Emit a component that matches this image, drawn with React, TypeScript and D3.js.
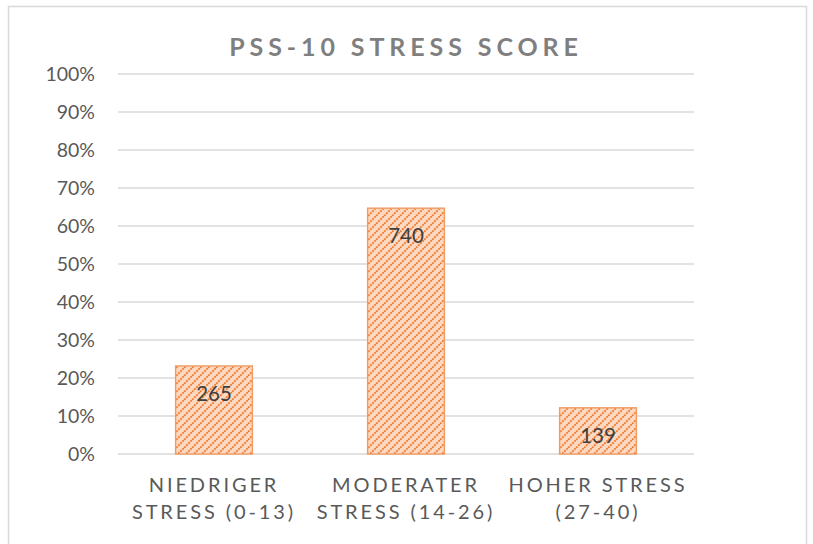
import React from "react";
import * as d3 from "d3";

// PSS-10 Verteilung (Anzahl Teilnehmer je Kategorie)
const categories = ["niedrig", "moderat", "hoch"];
const labelLines = [
  ["NIEDRIGER", "STRESS (0-13)"],
  ["MODERATER", "STRESS (14-26)"],
  ["HOHER STRESS", "(27-40)"],
];
const counts = [265, 740, 139];
const yTicks = [0, 0.1, 0.2, 0.3, 0.4, 0.5, 0.6, 0.7, 0.8, 0.9, 1];

const width = 813;
const height = 544;
const plotLeft = 118;
const plotRight = 694;
const plotTop = 74;
const plotBottom = 454;

const orange = "#ED7D31";
const font = "Lato, 'Open Sans', sans-serif";

const App = () => {
  const total = d3.sum(counts);
  const x = d3.scaleBand().domain(categories).range([plotLeft, plotRight]).paddingInner(0.6).paddingOuter(0.3);
  const y = d3.scaleLinear().domain([0, 1]).range([plotBottom, plotTop]);
  const pct = d3.format(".0%");

  return (
    <svg width={width} height={height} style={{ position: "fixed", left: 0, top: 0 }}>
      <defs>
        <pattern id="hatch" width={8} height={8} patternUnits="userSpaceOnUse">
          <rect width={8} height={8} fill="#FBD9C2" />
          <path d="M-2,2 L2,-2 M0,8 L8,0 M6,10 L10,6" stroke={orange} strokeWidth={1.8} strokeDasharray="2,1" />
        </pattern>
      </defs>
      <rect x={0} y={0} width={width} height={height} fill="#fff" />
      <path d={`M8.5,${height} V6.5 H806.5 V${height}`} fill="none" stroke="#d9d9d9" strokeWidth={1.5} />

      <text x={(plotLeft + plotRight) / 2} y={56} textAnchor="middle" fontFamily={font} fontWeight="bold"
        fontSize={25} letterSpacing={4.9} fill="#7f7f7f">
        PSS-10 STRESS SCORE
      </text>

      {yTicks.map(t => (
        <g key={t}>
          <line x1={plotLeft} x2={plotRight} y1={y(t)} y2={y(t)} stroke="#d9d9d9" strokeWidth={1.3} />
          <text x={95} y={y(t)} dy="0.36em" textAnchor="end" fontFamily={font} fontSize={19.5} fill="#595959">
            {pct(t)}
          </text>
        </g>
      ))}

      {categories.map((c, i) => {
        const v = counts[i] / total;
        const bx = x(c) as number;
        return (
          <g key={c}>
            <rect x={bx} y={y(v)} width={x.bandwidth()} height={plotBottom - y(v)} fill="url(#hatch)"
              stroke="#F19A62" strokeWidth={1.4} />
            <text x={bx + x.bandwidth() / 2} y={y(v) + 35} textAnchor="middle" fontFamily={font}
              fontSize={20.5} fill="#404040">
              {counts[i]}
            </text>
            {labelLines[i].map((l, j) => (
              <text key={j} x={bx + x.bandwidth() / 2} y={491.5 + j * 27} textAnchor="middle" fontFamily={font}
                fontSize={20} letterSpacing={2.9} fill="#595959">
                {l}
              </text>
            ))}
          </g>
        );
      })}
    </svg>
  );
};

export default App;
